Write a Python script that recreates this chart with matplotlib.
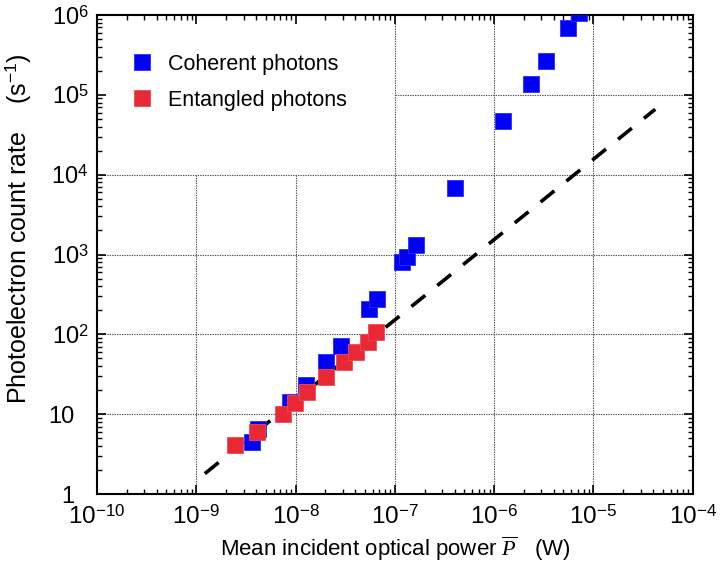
import numpy as np
import matplotlib
matplotlib.use("Agg")
import matplotlib.pyplot as plt
from matplotlib.ticker import FixedLocator, FixedFormatter, LogLocator, NullFormatter
from matplotlib.transforms import ScaledTranslation

plt.rcParams['font.family'] = ['Liberation Sans', 'DejaVu Sans']
plt.rcParams['mathtext.fontset'] = 'custom'
plt.rcParams['mathtext.rm'] = 'Liberation Sans'
plt.rcParams['mathtext.it'] = 'Liberation Serif:italic'
plt.rcParams['mathtext.bf'] = 'Liberation Sans:bold'

# count rate vs mean optical power
coh_p = [3.64e-9, 4.15e-9, 8.8e-9, 1.265e-8, 2.01e-8, 2.88e-8, 5.52e-8, 6.65e-8,
         1.186e-7, 1.333e-7, 1.62e-7, 4.03e-7, 1.219e-6, 2.35e-6, 3.33e-6, 5.57e-6, 7.15e-6]
coh_rate = [4.48, 6.47, 14.3, 23.2, 45.5, 71.6, 208, 280,
            801, 941, 1319, 6775, 4.76e4, 1.36e5, 2.69e5, 6.92e5, 1.07e6]

ent_p = [2.47e-9, 4.05e-9, 7.46e-9, 9.86e-9, 1.31e-8, 2.01e-8, 3.07e-8, 4.05e-8, 5.40e-8, 6.46e-8]
ent_rate = [4.08, 5.93, 10.1, 13.7, 18.8, 29.3, 45.1, 60.2, 79.6, 107]

# linear (one-photon) response
lin_p = [1.22e-9, 4.2e-5]
lin_rate = [1.8, 6.6e4]

x_ticks = [1e-10, 1e-9, 1e-8, 1e-7, 1e-6, 1e-5, 1e-4]
x_labels = ['$10^{-10}$', '$10^{-9}$', '$10^{-8}$', '$10^{-7}$', '$10^{-6}$', '$10^{-5}$', '$10^{-4}$']
y_ticks = [1, 10, 1e2, 1e3, 1e4, 1e5, 1e6]
y_labels = ['1', '10', '$10^{2}$', '$10^{3}$', '$10^{4}$', '$10^{5}$', '$10^{6}$']

fig = plt.figure(figsize=(7.2, 5.64), dpi=100)
ax = fig.add_axes([0.1347, 0.1241, 0.8273, 0.8493])
ax.set_xscale('log')
ax.set_yscale('log')
ax.set_xlim(1e-10, 1e-4)
ax.set_ylim(1, 1e6)

# grid, left open behind the legend
gkw = dict(color='0.3', linewidth=0.8, linestyle=(0, (1.2, 1.0)), zorder=1)
for yv in [10, 1e2, 1e3, 1e4]:
    ax.hlines(yv, 1e-10, 1e-4, **gkw)
ax.hlines(1e5, 1e-7, 1e-4, **gkw)
for xv in [1e-9, 1e-8]:
    ax.vlines(xv, 1, 1e4, **gkw)
for xv in [1e-7, 1e-6, 1e-5]:
    ax.vlines(xv, 1, 1e6, **gkw)

ax.plot(lin_p, lin_rate, color='black', linewidth=2.6, linestyle=(0, (4.9, 4.3)), zorder=2)

ax.plot(coh_p, coh_rate, 's', color='#0000f5', markeredgecolor='#2a2aff', markeredgewidth=0.6,
        markersize=11, linestyle='none', label='Coherent photons', zorder=3)
ax.plot(ent_p, ent_rate, 's', color='#e82834', markeredgecolor='#f04a55', markeredgewidth=0.6,
        markersize=11, linestyle='none', label='Entangled photons', zorder=4)

ax.xaxis.set_major_locator(FixedLocator(x_ticks))
ax.xaxis.set_major_formatter(FixedFormatter(x_labels))
ax.yaxis.set_major_locator(FixedLocator(y_ticks))
ax.yaxis.set_major_formatter(FixedFormatter(y_labels))
ax.xaxis.set_minor_locator(LogLocator(base=10, subs=np.arange(2, 10), numticks=20))
ax.yaxis.set_minor_locator(LogLocator(base=10, subs=np.arange(2, 10), numticks=20))
ax.xaxis.set_minor_formatter(NullFormatter())
ax.yaxis.set_minor_formatter(NullFormatter())

ax.tick_params(which='both', direction='in', top=True, right=True, colors='black')
ax.tick_params(which='major', length=6.5, width=1.2)
ax.tick_params(which='minor', length=3.6, width=1.0)
ax.tick_params(axis='x', which='major', pad=8, labelsize=17.5)
ax.tick_params(axis='y', which='major', pad=6, labelsize=17)
for s in ax.spines.values():
    s.set_linewidth(1.5)

# plain 1 and 10 sit left, in line with the bases of the powers of ten
shift = ScaledTranslation(-0.14, 0, fig.dpi_scale_trans)
for lab in ax.get_yticklabels()[:2]:
    lab.set_transform(lab.get_transform() + shift)

ax.set_xlabel(r'Mean incident optical power $\overline{P}$   (W)', fontsize=16, labelpad=4)
ax.set_ylabel(r'Photoelectron count rate    (s$^{-1}$)', fontsize=18)
ax.yaxis.set_label_coords(-0.107, 0.553)

ax.legend(loc='upper left', bbox_to_anchor=(0.04, 0.942), frameon=False, fontsize=15.5,
          handletextpad=0.7, labelspacing=0.7, handlelength=1.0, borderpad=0)

fig.savefig('out.png', dpi=100)
